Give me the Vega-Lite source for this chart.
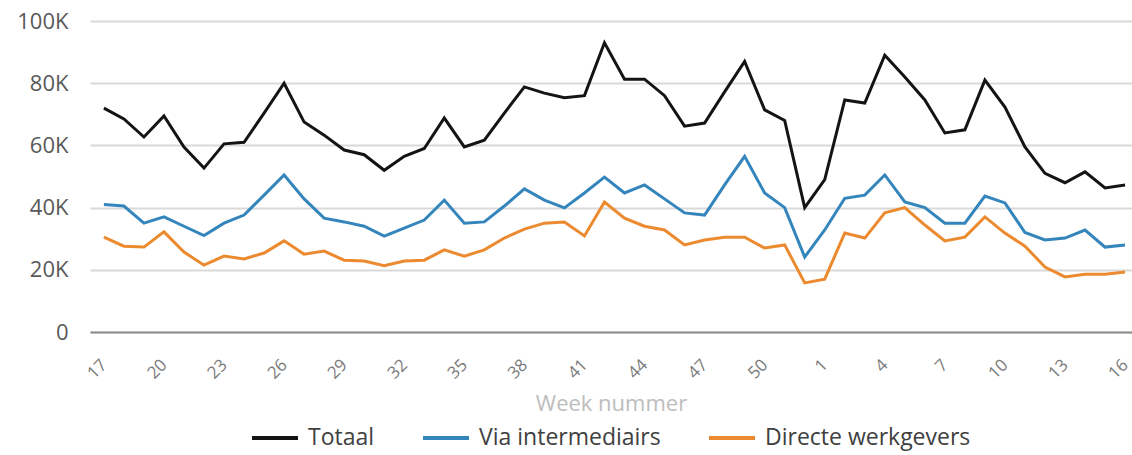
{
  "$schema": "https://vega.github.io/schema/vega-lite/v6.json",
  "width": 1042,
  "height": 311,
  "autosize": {"type": "none"},
  "padding": {"left": 90, "top": 21, "right": 0, "bottom": 123},
  "background": "#ffffff",
  "config": {
    "font": "Open Sans",
    "view": {"stroke": null}
  },
  "data": {
    "values": [
      {"week": 17, "Totaal": 72, "Via intermediairs": 41, "Directe werkgevers": 30.5},
      {"week": 18, "Totaal": 68.5, "Via intermediairs": 40.5, "Directe werkgevers": 27.6},
      {"week": 19, "Totaal": 62.7, "Via intermediairs": 35, "Directe werkgevers": 27.3},
      {"week": 20, "Totaal": 69.5, "Via intermediairs": 37, "Directe werkgevers": 32.2},
      {"week": 21, "Totaal": 59.5, "Via intermediairs": 34, "Directe werkgevers": 25.7},
      {"week": 22, "Totaal": 52.7, "Via intermediairs": 31, "Directe werkgevers": 21.5},
      {"week": 23, "Totaal": 60.5, "Via intermediairs": 35, "Directe werkgevers": 24.4},
      {"week": 24, "Totaal": 61, "Via intermediairs": 37.6, "Directe werkgevers": 23.5},
      {"week": 25, "Totaal": 70.4, "Via intermediairs": 44, "Directe werkgevers": 25.4},
      {"week": 26, "Totaal": 80, "Via intermediairs": 50.5, "Directe werkgevers": 29.3},
      {"week": 27, "Totaal": 67.5, "Via intermediairs": 42.8, "Directe werkgevers": 25},
      {"week": 28, "Totaal": 63.3, "Via intermediairs": 36.6, "Directe werkgevers": 26},
      {"week": 29, "Totaal": 58.5, "Via intermediairs": 35.4, "Directe werkgevers": 23.1},
      {"week": 30, "Totaal": 57, "Via intermediairs": 34, "Directe werkgevers": 22.8},
      {"week": 31, "Totaal": 52, "Via intermediairs": 30.8, "Directe werkgevers": 21.3},
      {"week": 32, "Totaal": 56.5, "Via intermediairs": 33.4, "Directe werkgevers": 22.8},
      {"week": 33, "Totaal": 59, "Via intermediairs": 36, "Directe werkgevers": 23.1},
      {"week": 34, "Totaal": 68.8, "Via intermediairs": 42.4, "Directe werkgevers": 26.4},
      {"week": 35, "Totaal": 59.5, "Via intermediairs": 35, "Directe werkgevers": 24.4},
      {"week": 36, "Totaal": 61.7, "Via intermediairs": 35.4, "Directe werkgevers": 26.4},
      {"week": 37, "Totaal": 70.4, "Via intermediairs": 40.5, "Directe werkgevers": 30.2},
      {"week": 38, "Totaal": 78.8, "Via intermediairs": 46, "Directe werkgevers": 33.1},
      {"week": 39, "Totaal": 76.8, "Via intermediairs": 42.4, "Directe werkgevers": 35},
      {"week": 40, "Totaal": 75.3, "Via intermediairs": 39.9, "Directe werkgevers": 35.4},
      {"week": 41, "Totaal": 76, "Via intermediairs": 44.7, "Directe werkgevers": 30.9},
      {"week": 42, "Totaal": 93, "Via intermediairs": 49.8, "Directe werkgevers": 41.8},
      {"week": 43, "Totaal": 81.3, "Via intermediairs": 44.7, "Directe werkgevers": 36.6},
      {"week": 44, "Totaal": 81.3, "Via intermediairs": 47.3, "Directe werkgevers": 34},
      {"week": 45, "Totaal": 76, "Via intermediairs": 42.8, "Directe werkgevers": 32.8},
      {"week": 46, "Totaal": 66.2, "Via intermediairs": 38.3, "Directe werkgevers": 28},
      {"week": 47, "Totaal": 67.2, "Via intermediairs": 37.6, "Directe werkgevers": 29.6},
      {"week": 48, "Totaal": 77.2, "Via intermediairs": 47.3, "Directe werkgevers": 30.5},
      {"week": 49, "Totaal": 87, "Via intermediairs": 56.5, "Directe werkgevers": 30.5},
      {"week": 50, "Totaal": 71.4, "Via intermediairs": 44.7, "Directe werkgevers": 27},
      {"week": 51, "Totaal": 68, "Via intermediairs": 40, "Directe werkgevers": 28},
      {"week": 52, "Totaal": 40, "Via intermediairs": 24.1, "Directe werkgevers": 15.8},
      {"week": 1, "Totaal": 49, "Via intermediairs": 32.8, "Directe werkgevers": 17},
      {"week": 2, "Totaal": 74.6, "Via intermediairs": 43, "Directe werkgevers": 31.8},
      {"week": 3, "Totaal": 73.6, "Via intermediairs": 44, "Directe werkgevers": 30.2},
      {"week": 4, "Totaal": 89, "Via intermediairs": 50.5, "Directe werkgevers": 38.3},
      {"week": 5, "Totaal": 82, "Via intermediairs": 41.8, "Directe werkgevers": 40},
      {"week": 6, "Totaal": 74.6, "Via intermediairs": 40, "Directe werkgevers": 34.4},
      {"week": 7, "Totaal": 64, "Via intermediairs": 35, "Directe werkgevers": 29.3},
      {"week": 8, "Totaal": 65, "Via intermediairs": 35, "Directe werkgevers": 30.5},
      {"week": 9, "Totaal": 81, "Via intermediairs": 43.7, "Directe werkgevers": 37},
      {"week": 10, "Totaal": 72.3, "Via intermediairs": 41.5, "Directe werkgevers": 31.8},
      {"week": 11, "Totaal": 59.5, "Via intermediairs": 32, "Directe werkgevers": 27.6},
      {"week": 12, "Totaal": 51, "Via intermediairs": 29.6, "Directe werkgevers": 20.9},
      {"week": 13, "Totaal": 48, "Via intermediairs": 30.2, "Directe werkgevers": 17.7},
      {"week": 14, "Totaal": 51.5, "Via intermediairs": 32.8, "Directe werkgevers": 18.6},
      {"week": 15, "Totaal": 46.3, "Via intermediairs": 27.3, "Directe werkgevers": 18.6},
      {"week": 16, "Totaal": 47.3, "Via intermediairs": 28, "Directe werkgevers": 19.3}
    ]
  },
  "transform": [
    {"fold": ["Totaal", "Via intermediairs", "Directe werkgevers"], "as": ["serie", "waarde"]}
  ],
  "mark": {"type": "line", "strokeWidth": 3, "interpolate": "linear"},
  "encoding": {
    "x": {
      "field": "week",
      "type": "ordinal",
      "sort": null,
      "scale": {"type": "point", "padding": 0.52, "align": 0.667},
      "axis": {
        "values": [17, 20, 23, 26, 29, 32, 35, 38, 41, 44, 47, 50, 1, 4, 7, 10, 13, 16],
        "labelAngle": -45,
        "labelAlign": "right",
        "labelBaseline": "middle",
        "labelFontSize": 17,
        "labelColor": "#7a7a7a",
        "labelPadding": 30,
        "labelFlush": false,
        "ticks": false,
        "domain": true,
        "domainColor": "#8c8c8c",
        "domainWidth": 2,
        "grid": false,
        "title": "Week nummer",
        "titleFontSize": 22,
        "titleFontWeight": "normal",
        "titleColor": "#bdbdbd",
        "titlePadding": 12
      }
    },
    "y": {
      "field": "waarde",
      "type": "quantitative",
      "scale": {"domain": [0, 100], "nice": false},
      "axis": {
        "values": [0, 20, 40, 60, 80, 100],
        "labelExpr": "datum.value == 0 ? '0' : datum.value + 'K'",
        "labelFontSize": 22,
        "labelColor": "#595959",
        "labelPadding": 22,
        "ticks": false,
        "domain": false,
        "grid": true,
        "gridColor": "#d9d9d9",
        "gridWidth": 2,
        "title": null
      }
    },
    "color": {
      "field": "serie",
      "type": "nominal",
      "sort": ["Totaal", "Via intermediairs", "Directe werkgevers"],
      "scale": {
        "domain": ["Totaal", "Via intermediairs", "Directe werkgevers"],
        "range": ["#141414", "#3585bd", "#ec8a2f"]
      },
      "legend": {
        "orient": "none",
        "legendX": 160,
        "legendY": 392,
        "direction": "horizontal",
        "title": null,
        "symbolType": "stroke",
        "symbolSize": 2116,
        "symbolStrokeWidth": 4,
        "labelFontSize": 23,
        "labelLimit": 400,
        "labelColor": "#404040",
        "labelOffset": 8,
        "columnPadding": 40
      }
    }
  }
}
